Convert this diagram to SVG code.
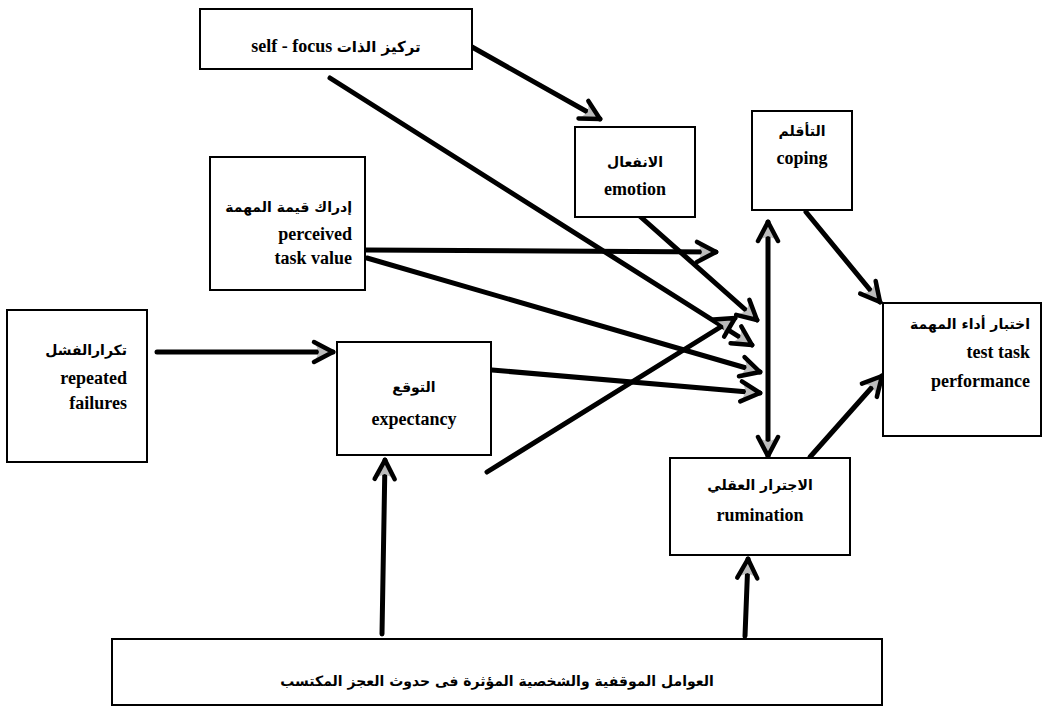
<svg xmlns="http://www.w3.org/2000/svg" width="1055" height="711" viewBox="0 0 1055 711">
<style>
.box{fill:#fff;stroke:#000;stroke-width:2}
.en{font-family:"Liberation Serif","DejaVu Serif",serif;font-weight:bold;font-size:18px;fill:#000}
.ar{font-family:"DejaVu Sans","Noto Sans",sans-serif;font-weight:bold;font-size:14px;fill:#000}
.c{fill:none;stroke:#000;stroke-width:5;stroke-linecap:round}
</style>
<defs>
<marker id="ah" markerUnits="userSpaceOnUse" markerWidth="30" markerHeight="30" viewBox="-26 -14 30 28" refX="0" refY="0" orient="auto-start-reverse" overflow="visible">
<path d="M0,0 L-18,-9 L-14,0 L-18,9 Z" fill="#bbb" stroke="none"/>
<path d="M0,0 L-19,-10 M0,0 L-19,10" fill="none" stroke="#000" stroke-width="4.5" stroke-linecap="round"/>
</marker>
</defs>
<g id="connectors">
<line class="c" x1="472" y1="47" x2="600" y2="119" marker-end="url(#ah)"/>
<line class="c" x1="330" y1="78" x2="752" y2="345" marker-end="url(#ah)"/>
<line class="c" x1="625" y1="203" x2="757" y2="320" marker-end="url(#ah)"/>
<line class="c" x1="366" y1="250" x2="716" y2="252" marker-end="url(#ah)"/>
<line class="c" x1="367" y1="258" x2="760" y2="372" marker-end="url(#ah)"/>
<line class="c" x1="492" y1="370" x2="760" y2="393" marker-end="url(#ah)"/>
<line class="c" x1="487" y1="472" x2="735" y2="318" marker-end="url(#ah)"/>
<line class="c" x1="768" y1="222" x2="768" y2="456" marker-start="url(#ah)" marker-end="url(#ah)"/>
<line class="c" x1="806" y1="212" x2="880" y2="302" marker-end="url(#ah)"/>
<line class="c" x1="810" y1="457" x2="882" y2="376" marker-end="url(#ah)"/>
<line class="c" x1="157" y1="352" x2="333" y2="352" marker-end="url(#ah)"/>
<line class="c" x1="382" y1="634" x2="385" y2="460" marker-end="url(#ah)"/>
<line class="c" x1="745" y1="636" x2="748" y2="559" marker-end="url(#ah)"/>
</g>
<g id="self-focus">
<rect class="box" x="200" y="9" width="272" height="60"/>
<text class="en" x="336" y="52" text-anchor="middle">self - focus <tspan class="ar" style="font-size:15px">تركيز الذات</tspan></text>
</g>
<g id="emotion">
<rect class="box" x="575" y="127" width="120" height="90"/>
<text class="ar" x="635" y="167" text-anchor="middle">الانفعال</text>
<text class="en" x="635" y="195" text-anchor="middle">emotion</text>
</g>
<g id="coping">
<rect class="box" x="752" y="111" width="100" height="99"/>
<text class="ar" x="802" y="136" text-anchor="middle">التأقلم</text>
<text class="en" x="802" y="164" text-anchor="middle">coping</text>
</g>
<g id="perceived-task-value">
<rect class="box" x="210" y="157" width="155" height="133"/>
<text class="ar" x="352" y="212" text-anchor="end">إدراك قيمة المهمة</text>
<text class="en" x="352" y="240" text-anchor="end">perceived</text>
<text class="en" x="352" y="264" text-anchor="end">task value</text>
</g>
<g id="repeated-failures">
<rect class="box" x="7" y="310" width="140" height="152"/>
<text class="ar" x="127" y="355" text-anchor="end">تكرارالفشل</text>
<text class="en" x="127" y="384" text-anchor="end">repeated</text>
<text class="en" x="127" y="409" text-anchor="end">failures</text>
</g>
<g id="expectancy">
<rect class="box" x="337" y="342" width="154" height="113"/>
<text class="ar" x="414" y="392" text-anchor="middle">التوقع</text>
<text class="en" x="414" y="425" text-anchor="middle">expectancy</text>
</g>
<g id="rumination">
<rect class="box" x="670" y="458" width="180" height="97"/>
<text class="ar" x="760" y="490" text-anchor="middle">الاجترار العقلي</text>
<text class="en" x="760" y="521" text-anchor="middle">rumination</text>
</g>
<g id="test-task-performance">
<rect class="box" x="883" y="303" width="158" height="133"/>
<text class="ar" x="1030" y="329" text-anchor="end">اختبار أداء المهمة</text>
<text class="en" x="1030" y="358" text-anchor="end">test task</text>
<text class="en" x="1030" y="387" text-anchor="end">performance</text>
</g>
<g id="factors">
<rect class="box" x="112" y="639" width="770" height="66"/>
<text class="ar" x="497" y="686" text-anchor="middle">العوامل الموقفية والشخصية المؤثرة فى حدوث العجز المكتسب</text>
</g>
</svg>
